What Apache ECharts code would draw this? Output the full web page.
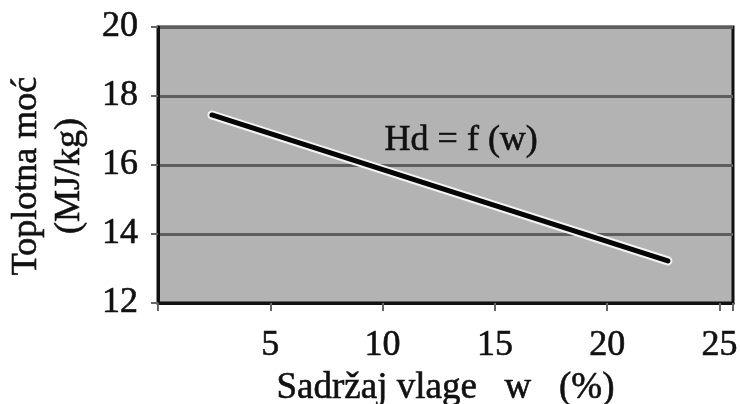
<!DOCTYPE html>
<html><head><meta charset="utf-8">
<script src="https://cdn.jsdelivr.net/npm/echarts@6/dist/echarts.min.js"></script>
<style>html,body{margin:0;padding:0;background:#fff}#c{width:740px;height:404px}</style>
</head><body><div id="c"></div>
<script>
// data
var moisture = [2.4, 22.7];        // w (%)
var heatValue = [17.45, 13.22];    // Hd (MJ/kg)
var xTicks = [5, 10, 15, 20, 25];
var yTicks = [12, 14, 16, 18, 20];
var curveLabel = 'Hd = f (w)';
var labelAt = [13.5, 16.72];

var pts = moisture.map(function (x, i) { return [x, heatValue[i]]; });
var font = '"Liberation Serif", "DejaVu Serif", serif';
var thick = {textBorderColor: '#111', textBorderWidth: 0.6};
var chart = echarts.init(document.getElementById('c'), null, {renderer: 'canvas'});
chart.setOption({
  backgroundColor: '#fff',
  animation: false,
  grid: {left: 158, top: 27, right: 7, bottom: 101, show: true, containLabel: false,
         outerBoundsMode: 'none',
         backgroundColor: '#b3b3b3', borderColor: '#111', borderWidth: 3},
  xAxis: {type: 'value', min: 0, max: 25.6, interval: 5,
    name: 'Sadržaj vlage   w   (%)', nameLocation: 'middle', nameGap: 62,
    nameTextStyle: Object.assign({fontFamily: font, fontSize: 37, color: '#111'}, thick),
    axisLine: {show: true, lineStyle: {color: '#111', width: 3}},
    axisTick: {show: true, length: 8, lineStyle: {color: '#666', width: 2}},
    splitLine: {show: false},
    axisLabel: Object.assign({margin: 25, fontFamily: font, fontSize: 36, color: '#111',
      formatter: function (v) { return xTicks.indexOf(v) >= 0 ? String(v) : ''; }}, thick)
  },
  yAxis: {type: 'value', min: 12, max: 20, interval: 2,
    name: 'Toplotna moć\n(MJ/kg)', nameLocation: 'middle', nameGap: 67, nameRotate: 90,
    nameTextStyle: Object.assign({fontFamily: font, fontSize: 36, lineHeight: 43, color: '#111',
      padding: [0, 22, 0, 0]}, thick),
    axisLine: {show: true, lineStyle: {color: '#111', width: 3}},
    axisTick: {show: true, length: 7, lineStyle: {color: '#666', width: 2}},
    splitLine: {show: true, lineStyle: {color: '#5e5e5e', width: 3}},
    axisLabel: Object.assign({margin: 20, fontFamily: font, fontSize: 36, color: '#111',
      formatter: function (v) { return yTicks.indexOf(v) >= 0 ? String(v) : ''; }}, thick)
  },
  series: [
    {type: 'line', data: pts, symbol: 'none', silent: true,
     lineStyle: {color: '#f4f4f4', width: 9, cap: 'round'}, z: 2},
    {type: 'line', data: pts, symbol: 'none', silent: true,
     lineStyle: {color: '#050505', width: 5, cap: 'round'}, z: 3,
     markPoint: {symbol: 'circle', symbolSize: 0, silent: true,
       data: [{coord: labelAt, value: curveLabel}],
       label: Object.assign({show: true, position: 'inside', formatter: curveLabel,
         fontFamily: font, fontSize: 36, color: '#111'}, thick)}}
  ]
});
</script></body></html>
